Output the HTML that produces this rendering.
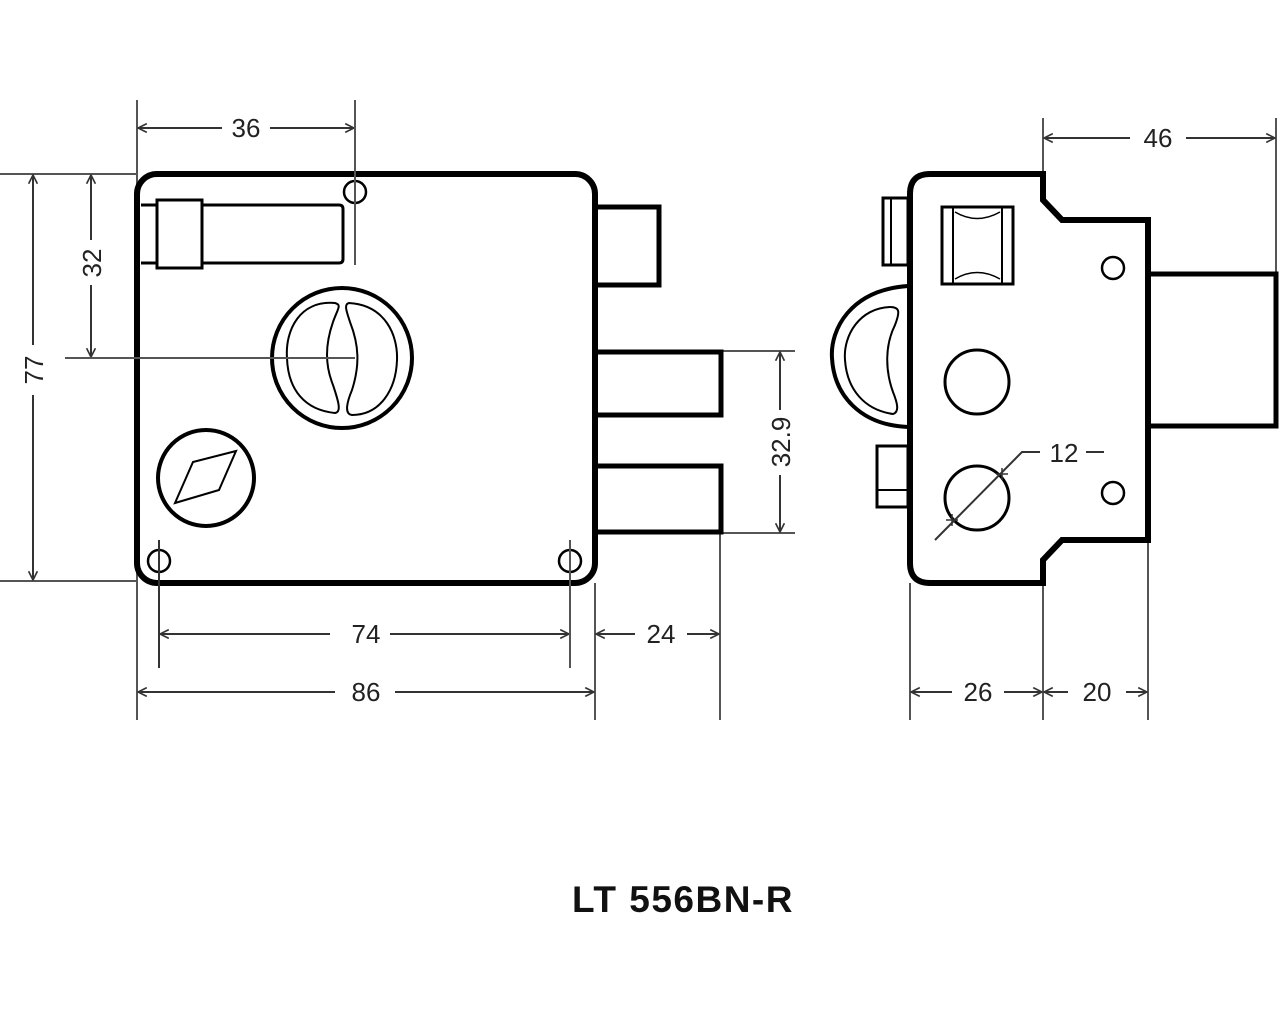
<!DOCTYPE html>
<html><head><meta charset="utf-8"><style>
html,body{margin:0;padding:0;background:#fff;}
svg{display:block}
text{font-family:"Liberation Sans",sans-serif;}
</style></head><body>
<svg width="1280" height="1024" viewBox="0 0 1280 1024" xmlns="http://www.w3.org/2000/svg">
<defs>
<marker id="a" viewBox="0 0 10 10" refX="9" refY="5" markerWidth="11" markerHeight="11" orient="auto-start-reverse" markerUnits="userSpaceOnUse"><path d="M1,1 L9,5 L1,9" fill="none" stroke="#333" stroke-width="1.5"/></marker>
</defs>
<g fill="none" stroke="#555" stroke-width="2">
<line x1="137" y1="100" x2="137" y2="720"/>
<line x1="355" y1="100" x2="355" y2="265"/>
<line x1="0" y1="174" x2="137" y2="174"/>
<line x1="0" y1="581" x2="137" y2="581"/>
<line x1="65" y1="358" x2="355" y2="358"/>
<line x1="722" y1="351" x2="795" y2="351"/>
<line x1="722" y1="533" x2="795" y2="533"/>
<line x1="159" y1="540" x2="159" y2="668"/>
<line x1="570" y1="540" x2="570" y2="668"/>
<line x1="595" y1="583" x2="595" y2="720"/>
<line x1="720" y1="533" x2="720" y2="720"/>
<line x1="1043" y1="118" x2="1043" y2="174"/>
<line x1="1276" y1="118" x2="1276" y2="274"/>
<line x1="910" y1="583" x2="910" y2="720"/>
<line x1="1043" y1="583" x2="1043" y2="720"/>
<line x1="1148" y1="426" x2="1148" y2="720"/>
</g>
<g fill="none" stroke="#333" stroke-width="2" marker-start="url(#a)" marker-end="url(#a)">
<line x1="138" y1="128" x2="354" y2="128"/>
<line x1="33" y1="175" x2="33" y2="580"/>
<line x1="91" y1="175" x2="91" y2="357"/>
<line x1="780" y1="352" x2="780" y2="532"/>
<line x1="160" y1="634" x2="569" y2="634"/>
<line x1="596" y1="634" x2="719" y2="634"/>
<line x1="138" y1="692" x2="594" y2="692"/>
<line x1="1044" y1="138" x2="1275" y2="138"/>
<line x1="1220" y1="275" x2="1220" y2="425"/>
<line x1="911" y1="692" x2="1042" y2="692"/>
<line x1="1044" y1="692" x2="1147" y2="692"/>
</g>
<g fill="#fff">
<rect x="222" y="112" width="48" height="32"/>
<rect x="18" y="345" width="32" height="50"/>
<rect x="76" y="240" width="32" height="45"/>
<rect x="765" y="410" width="32" height="65"/>
<rect x="330" y="618" width="60" height="32"/>
<rect x="635" y="618" width="52" height="32"/>
<rect x="335" y="676" width="60" height="32"/>
<rect x="1130" y="122" width="56" height="32"/>
<rect x="1205" y="325" width="32" height="50"/>
<rect x="952" y="676" width="52" height="32"/>
<rect x="1068" y="676" width="58" height="32"/>
</g>
<g font-size="26" fill="#222" text-anchor="middle">
<text x="246" y="137">36</text>
<text x="366" y="643">74</text>
<text x="661" y="643">24</text>
<text x="366" y="701">86</text>
<text x="1158" y="147">46</text>
<text x="978" y="701">26</text>
<text x="1097" y="701">20</text>
<text transform="translate(43,370) rotate(-90)">77</text>
<text transform="translate(101,263) rotate(-90)">32</text>
<text transform="translate(790,442) rotate(-90)">32.9</text>
<text transform="translate(1230,350) rotate(-90)">28</text>
</g>
<g fill="none" stroke="#000">
<rect x="595" y="207" width="64" height="78" stroke-width="5" fill="#fff"/>
<rect x="595" y="352" width="126" height="63" stroke-width="5" fill="#fff"/>
<rect x="595" y="466" width="126" height="66" stroke-width="5" fill="#fff"/>
<rect x="137" y="174" width="458" height="409" rx="20" stroke-width="6" fill="#fff"/>
<path d="M141,205 H339 Q343,205 343,209 V259 Q343,263 339,263 H141" stroke-width="3"/>
<rect x="157" y="200" width="45" height="68" stroke-width="3" fill="#fff"/>
<circle cx="355" cy="192" r="11" stroke-width="2.5"/>
<line x1="355" y1="100" x2="355" y2="265" stroke="#555" stroke-width="2"/>
<circle cx="159" cy="561" r="11" stroke-width="2.5"/>
<circle cx="570" cy="561" r="11" stroke-width="2.5"/>
<line x1="159" y1="540" x2="159" y2="668" stroke="#333" stroke-width="2"/>
<line x1="570" y1="540" x2="570" y2="668" stroke="#555" stroke-width="2"/>
<circle cx="342" cy="358" r="70" stroke-width="4"/>
<path d="M335,303 C300,300 285,330 287,358 C288,390 305,410 335,413 C342,412 338,400 333,385 C325,365 325,345 333,322 C338,308 342,305 335,303 Z" stroke-width="2"/>
<path d="M349,303 C385,305 398,335 397,360 C396,390 380,415 352,415 C344,414 347,402 352,390 C360,365 359,345 350,322 C346,310 344,304 349,303 Z" stroke-width="2"/>
<line x1="65" y1="358" x2="355" y2="358" stroke="#555" stroke-width="2"/>
<circle cx="206" cy="478" r="48" stroke-width="4"/>
<path d="M175,503 L193,462 L236,451 L219,490 Z" stroke-width="2"/>
</g>
<g fill="none" stroke="#000">
<rect x="1148" y="274" width="128" height="152" stroke-width="5" fill="#fff"/>
<rect x="883" y="198" width="25" height="67" stroke-width="3"/>
<line x1="891" y1="198" x2="891" y2="265" stroke-width="2"/>
<path d="M908,286 C850,290 830,330 832,358 C834,395 860,425 908,427" stroke-width="4"/>
<path d="M890,307 C860,308 843,335 845,360 C847,390 865,410 893,414 C900,412 897,402 893,392 C885,370 885,345 895,325 C900,312 900,307 890,307 Z" stroke-width="2"/>
<rect x="877" y="446" width="31" height="61" stroke-width="3"/>
<line x1="877" y1="490" x2="908" y2="490" stroke-width="2"/>
<path d="M930,174 H1043 V200 L1062,220 H1148 V540 H1062 L1043,560 V583 H930 Q910,583 910,563 V194 Q910,174 930,174 Z" stroke-width="6" fill="#fff"/>
<rect x="942" y="207" width="71" height="77" stroke-width="3"/>
<line x1="953" y1="207" x2="953" y2="284" stroke-width="2"/>
<line x1="1002" y1="207" x2="1002" y2="284" stroke-width="2"/>
<path d="M955,212 Q977,225 1000,212" stroke-width="1.5"/>
<path d="M955,279 Q977,266 1000,279" stroke-width="1.5"/>
<circle cx="977" cy="382" r="32" stroke-width="3"/>
<circle cx="977" cy="498" r="32" stroke-width="3"/>
<circle cx="1113" cy="268" r="11" stroke-width="2.5"/>
<circle cx="1113" cy="493" r="11" stroke-width="2.5"/>
<path d="M935,540 L1022,452 H1040 M1086,452 H1104" stroke="#333" stroke-width="2"/>
<path d="M996,474 l12,0 M1002,468 l0,12" stroke="#333" stroke-width="1.5"/>
<path d="M946,520 l12,0 M952,514 l0,12" stroke="#333" stroke-width="1.5"/>
</g>
<text x="1064" y="462" font-size="26" fill="#222" text-anchor="middle">12</text>
<text x="683" y="912" font-size="37" font-weight="bold" text-anchor="middle" letter-spacing="1.5" fill="#111">LT 556BN-R</text>
</svg>
</body></html>
